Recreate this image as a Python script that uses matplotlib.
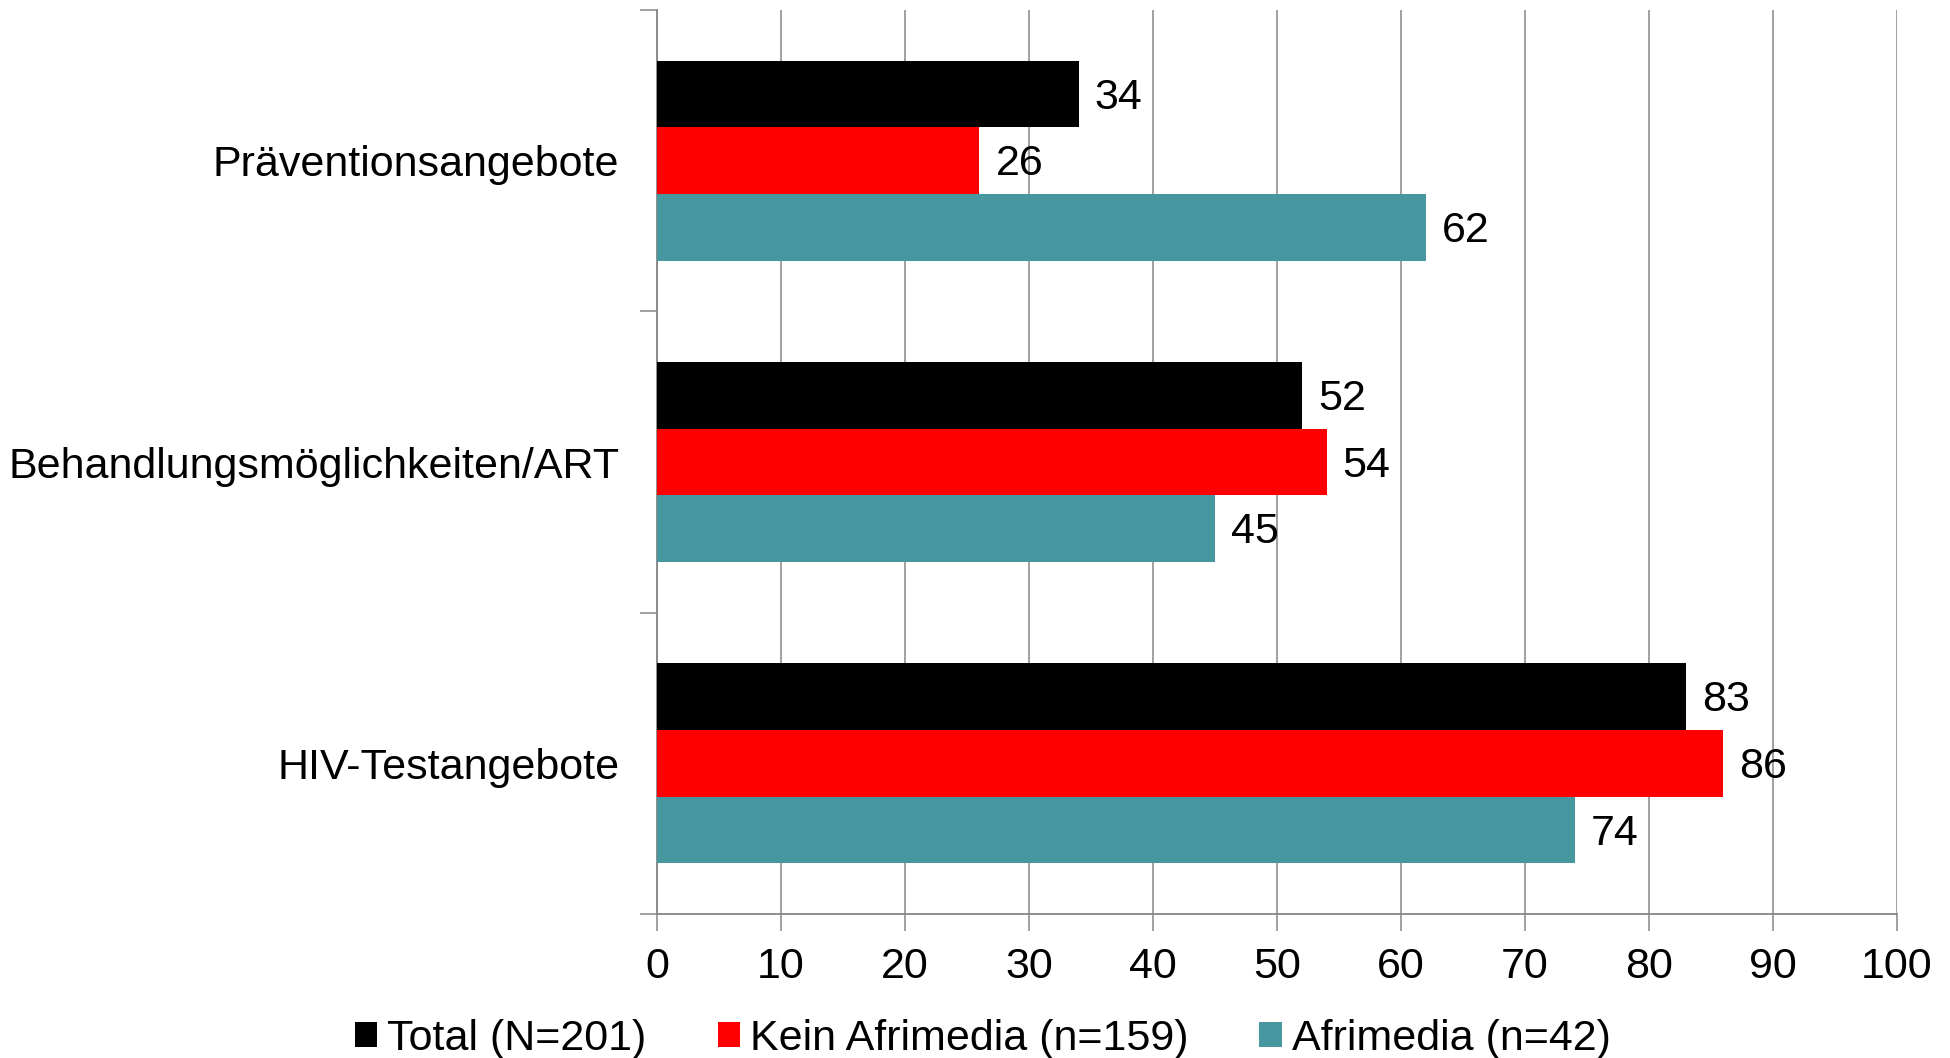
import numpy as np
import matplotlib.pyplot as plt

plt.rcParams['font.family'] = ['Liberation Sans', 'DejaVu Sans']

# Anteile in Prozent je Angebot
kategorien = ['Präventionsangebote', 'Behandlungsmöglichkeiten/ART', 'HIV-Testangebote']
serien = ['Total (N=201)', 'Kein Afrimedia (n=159)', 'Afrimedia (n=42)']
total = [34, 52, 83]
kein_afrimedia = [26, 54, 86]
afrimedia = [62, 45, 74]
farben = ['#000000', '#FF0000', '#46979F']

fs = 31
fig = plt.figure(figsize=(19.5, 10.58), dpi=100)
ax = fig.add_axes([0.3369, 0.1361, 0.6359, 0.8544])

grau = '#868686'
y = np.arange(len(kategorien))
h = 0.221
werte = [total, kein_afrimedia, afrimedia]
for i, (name, vals, col) in enumerate(zip(serien, werte, farben)):
    pos = y + (i - 1) * h
    bars = ax.barh(pos, vals, height=h, color=col, label=name, zorder=3)
    for b, v in zip(bars, vals):
        ax.text(v + 1.3, b.get_y() + b.get_height() / 2 + 0.012, str(v),
                va='center', ha='left', fontsize=fs, zorder=4)

ax.set_xlim(0, 100)
ax.set_ylim(len(kategorien) - 0.5, -0.5)
ax.set_xticks(np.arange(0, 101, 10))
ax.set_yticks(y)
ax.set_yticklabels(kategorien)
ax.set_yticks(np.arange(-0.5, len(kategorien), 1), minor=True)

ax.grid(axis='x', color=grau, linewidth=1.1, zorder=0)
for s in ['top', 'right']:
    ax.spines[s].set_visible(False)
for s in ['left', 'bottom']:
    ax.spines[s].set_color(grau)
    ax.spines[s].set_linewidth(1.3)

ax.tick_params(axis='x', length=12, width=1.1, color=grau, labelsize=fs, pad=12)
ax.tick_params(axis='y', which='major', length=0, labelsize=fs, pad=27)
ax.tick_params(axis='y', which='minor', length=12, width=1.1, color=grau)

fig.legend(loc='center', bbox_to_anchor=(0.504, 0.018), ncol=3, frameon=False,
           fontsize=fs, handlelength=0.52, handleheight=0.52,
           handletextpad=0.23, columnspacing=1.65, borderpad=0)

fig.savefig('out.png', dpi=100)
